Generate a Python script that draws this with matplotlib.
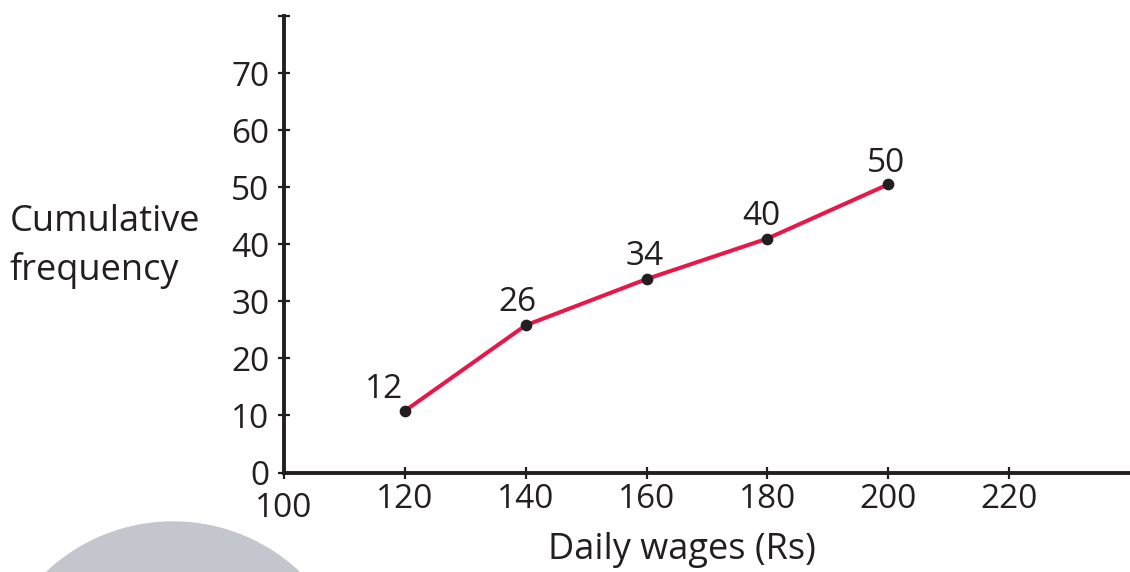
import matplotlib.pyplot as plt
from matplotlib.patches import Ellipse

plt.rcParams['font.family'] = ['Open Sans', 'DejaVu Sans']

# data
wages = [120, 140, 160, 180, 200]
cum_freq = [10.8, 25.8, 33.9, 41.0, 50.5]   # where the points sit on the graph
point_labels = ['12', '26', '34', '40', '50']
x_ticks = [100, 120, 140, 160, 180, 200, 220]
y_ticks = [0, 10, 20, 30, 40, 50, 60, 70, 80]
y_tick_labels = ['0', '10', '20', '30', '40', '50', '60', '70', '']

ink = '#231f20'
red = '#e8174a'

fig = plt.figure(figsize=(11.3, 5.72), dpi=100)

# grey watermark circle in the bottom left corner
W, H = 1130, 572
fig.patches.append(Ellipse((173 / W, 1 - 706 / H), 2 * 184 / W, 2 * 184 / H,
                           transform=fig.transFigure, color='#c3c6cd', zorder=0))

ax = fig.add_axes([284 / W, 1 - 472.5 / H, 1 - 284 / W, (472.5 - 16) / H])
ax.patch.set_alpha(0)

ax.plot(wages, cum_freq, color=red, lw=2.9, zorder=2)
ax.scatter(wages, cum_freq, s=55, color=ink, zorder=3)

offsets = [(-15, 9.5), (-6, 10), (-1.5, 10), (-4, 9.5), (-2, 9)]
for x, y, lab, off in zip(wages, cum_freq, point_labels, offsets):
    ax.annotate(lab, (x, y), xytext=off, textcoords='offset points',
                ha='center', va='baseline', fontsize=24, color=ink)

ax.set_xlim(100, 240)
ax.set_ylim(0, 80)
ax.set_xticks(x_ticks)
ax.set_yticks(y_ticks)
ax.set_yticklabels(y_tick_labels)

for s in ['top', 'right']:
    ax.spines[s].set_visible(False)
for s in ['left', 'bottom']:
    ax.spines[s].set_linewidth(2.8)
    ax.spines[s].set_color(ink)

ax.tick_params(direction='inout', length=9, width=1.6, color=ink,
               labelsize=24, labelcolor=ink)
ax.tick_params(axis='x', pad=3)
ax.tick_params(axis='y', pad=6)

# the 100 label sits a little lower than the others
ax.get_xticklabels()[0].set_y(-0.02)

fig.text(10 / W, 1 - 222 / H, 'Cumulative', fontsize=26, color=ink, va='center')
fig.text(10 / W, 1 - 270 / H, 'frequency', fontsize=26, color=ink, va='center')
fig.text(682 / W, 1 - 550 / H, 'Daily wages (Rs)', fontsize=26, color=ink,
         ha='center', va='center')

fig.savefig('out.png', dpi=100)
